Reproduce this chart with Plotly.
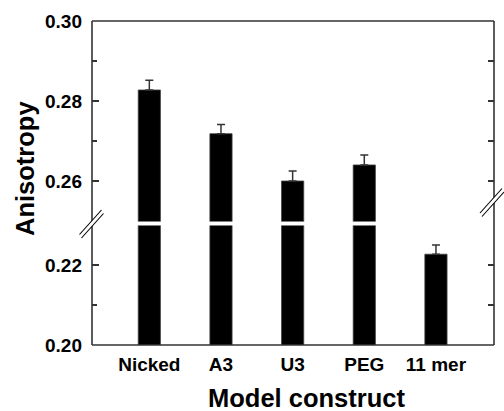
import plotly.graph_objects as go

# ---- data ----
categories = ["Nicked", "A3", "U3", "PEG", "11 mer"]
anisotropy = [0.2828, 0.2719, 0.2601, 0.2641, 0.2228]
errors = [0.0024, 0.0023, 0.0025, 0.0025, 0.0023]

lower_range = [0.20, 0.23]
upper_range = [0.25, 0.30]
lower_ticks = [0.20, 0.22]
lower_labels = ["0.20", "0.22"]
upper_ticks = [0.26, 0.28, 0.30]
upper_labels = ["0.26", "0.28", "0.30"]
lower_minor = [0.21]
upper_minor = [0.27, 0.29]
right_lower_ticks = [0.21, 0.22, 0.23]
right_upper_ticks = [0.26, 0.27, 0.28, 0.29]

# ---- layout geometry (pixels) ----
W, H = 504, 411
L, R, T, B = 92, 10, 21, 66
PW, PH = W - L - R, H - T - B


def px(x):
    return (x - L) / PW


def py(y):
    return (H - B - y) / PH


lower_dom = [0, py(225.5)]
upper_dom = [py(221.5), 1]

FONT = "Arial, Liberation Sans, Helvetica, sans-serif"
LINE = "#333333"

fig = go.Figure()
err = dict(type="data", symmetric=False, array=errors, arrayminus=[0] * len(errors),
           color=LINE, thickness=1.5, width=4)
for ya in ["y", "y2"]:
    fig.add_trace(go.Bar(x=categories, y=anisotropy, yaxis=ya, xaxis="x",
                         marker=dict(color="black", line=dict(width=0.8, color="#444")),
                         width=0.31, error_y=err, showlegend=False))

tickfont = dict(family=FONT, size=19, color="black", weight="bold")

fig.update_layout(
    width=W, height=H,
    margin=dict(l=L, r=R, t=T, b=B),
    paper_bgcolor="white", plot_bgcolor="white",
    barmode="overlay",
    xaxis=dict(range=[-0.8, 4.81], showline=False, showgrid=False, zeroline=False,
               ticks="", tickfont=tickfont, anchor="y", ticklabelstandoff=6),
    yaxis=dict(domain=lower_dom, range=lower_range, anchor="x",
               tickmode="array", tickvals=lower_ticks, ticktext=lower_labels,
               ticks="inside", ticklen=7, tickwidth=1.5, tickcolor=LINE,
               minor=dict(tickvals=lower_minor, ticks="inside", ticklen=5, tickwidth=1.5, tickcolor=LINE),
               showline=False, showgrid=False, zeroline=False, tickfont=tickfont,
               ticklabelstandoff=9),
    yaxis2=dict(domain=upper_dom, range=upper_range, anchor="x",
                tickmode="array", tickvals=upper_ticks, ticktext=upper_labels,
                ticks="inside", ticklen=7, tickwidth=1.5, tickcolor=LINE,
                minor=dict(tickvals=upper_minor, ticks="inside", ticklen=5, tickwidth=1.5, tickcolor=LINE),
                showline=False, showgrid=False, zeroline=False, tickfont=tickfont,
                ticklabelstandoff=9),
    yaxis3=dict(overlaying="y", side="right", anchor="x", range=lower_range,
                tickmode="array", tickvals=right_lower_ticks, showticklabels=False,
                ticks="inside", ticklen=6, tickwidth=1.5, tickcolor=LINE,
                showline=False, showgrid=False, zeroline=False),
    yaxis4=dict(overlaying="y2", side="right", anchor="x", range=upper_range,
                tickmode="array", tickvals=right_upper_ticks, showticklabels=False,
                ticks="inside", ticklen=6, tickwidth=1.5, tickcolor=LINE,
                showline=False, showgrid=False, zeroline=False),
)

# invisible traces so the right-side overlay axes render
fig.add_trace(go.Scatter(x=[categories[0]], y=[None], yaxis="y3", showlegend=False, hoverinfo="skip"))
fig.add_trace(go.Scatter(x=[categories[0]], y=[None], yaxis="y4", showlegend=False, hoverinfo="skip"))

shapes = []
# frame
for (x0, y0, x1, y1) in [(0, 0, 0, 1), (1, 0, 1, 1), (0, 0, 1, 0), (0, 1, 1, 1)]:
    shapes.append(dict(type="line", xref="paper", yref="paper", x0=x0, y0=y0, x1=x1, y1=y1,
                       line=dict(color=LINE, width=1.6)))


def brk(cx, cy):
    a1 = (cx - 12, cy + 11)
    b1 = (cx + 10, cy - 13.5)
    a2 = (cx - 10, cy + 14.5)
    b2 = (cx + 12, cy - 10)
    path = "M {} {} L {} {} L {} {} L {} {} Z".format(
        px(a1[0]), py(a1[1]), px(b1[0]), py(b1[1]), px(b2[0]), py(b2[1]), px(a2[0]), py(a2[1]))
    out = [dict(type="path", xref="paper", yref="paper", path=path,
                fillcolor="white", line=dict(width=0))]
    for a, b in [(a1, b1), (a2, b2)]:
        out.append(dict(type="line", xref="paper", yref="paper",
                        x0=px(a[0]), y0=py(a[1]), x1=px(b[0]), y1=py(b[1]),
                        line=dict(color="black", width=1.1)))
    return out


shapes += brk(91.5, 223.5)
shapes += brk(492, 202)
fig.update_layout(shapes=shapes)

titlefont = dict(family=FONT, size=25.5, color="black", weight="bold")
fig.add_annotation(text="Anisotropy", xref="paper", yref="paper", x=px(25), y=py(169),
                   textangle=-90, showarrow=False, font=titlefont, xanchor="center", yanchor="middle")
fig.add_annotation(text="Model construct", xref="paper", yref="paper", x=px(306), y=py(398),
                   showarrow=False, font=titlefont, xanchor="center", yanchor="middle")

fig.write_html("out.html")
